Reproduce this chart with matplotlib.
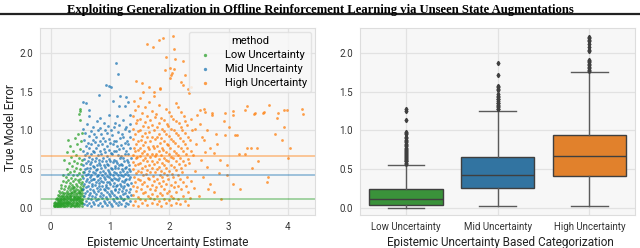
import numpy as np
import matplotlib.pyplot as plt
from matplotlib.lines import Line2D

plt.rcParams['font.family'] = ['Roboto', 'DejaVu Sans']

title = "Exploiting Generalization in Offline Reinforcement Learning via Unseen State Augmentations"
categories = ["Low Uncertainty", "Mid Uncertainty", "High Uncertainty"]
point_colors = ["#2ca02c", "#1f77b4", "#ff7f0e"]
box_colors = ["#3a923a", "#3274a1", "#e1812c"]

# scatter points (epistemic uncertainty, true model error)
low_pts = [
    (0.05, 0.02), (0.06, 0.04), (0.07, 0.03), (0.07, 0.06), (0.08, 0.02), (0.08, 0.08), (0.09, 0.05), (0.09, 0.11),
    (0.10, 0.03), (0.10, 0.07), (0.11, 0.02), (0.11, 0.05), (0.11, 0.13), (0.12, 0.04), (0.12, 0.09), (0.12, 0.17),
    (0.13, 0.03), (0.13, 0.06), (0.13, 0.12), (0.14, 0.02), (0.14, 0.08), (0.14, 0.15), (0.14, 0.22), (0.15, 0.04),
    (0.15, 0.10), (0.15, 0.05), (0.16, 0.03), (0.16, 0.07), (0.16, 0.13), (0.16, 0.19), (0.17, 0.05), (0.17, 0.09),
    (0.17, 0.26), (0.18, 0.02), (0.18, 0.11), (0.18, 0.16), (0.18, 0.30), (0.19, 0.04), (0.19, 0.07), (0.19, 0.21),
    (0.20, 0.03), (0.20, 0.09), (0.20, 0.14), (0.20, 0.35), (0.21, 0.06), (0.21, 0.12), (0.21, 0.18), (0.21, 0.42),
    (0.22, 0.02), (0.22, 0.08), (0.22, 0.24), (0.23, 0.05), (0.23, 0.11), (0.23, 0.16), (0.23, 0.62), (0.24, 0.03),
    (0.24, 0.13), (0.24, 0.28), (0.25, 0.07), (0.25, 0.19), (0.25, 0.40), (0.26, 0.04), (0.26, 0.10), (0.26, 0.15),
    (0.26, 0.33), (0.27, 0.06), (0.27, 0.22), (0.27, 0.50), (0.28, 0.02), (0.28, 0.12), (0.28, 0.17), (0.28, 0.72),
    (0.29, 0.08), (0.29, 0.26), (0.29, 0.44), (0.30, 0.04), (0.30, 0.14), (0.30, 0.20), (0.30, 0.36), (0.30, 0.88),
    (0.31, 0.07), (0.31, 0.11), (0.31, 0.29), (0.31, 0.58), (0.32, 0.03), (0.32, 0.16), (0.32, 0.23), (0.32, 0.47),
    (0.33, 0.09), (0.33, 0.13), (0.33, 0.32), (0.33, 0.80), (0.34, 0.05), (0.34, 0.19), (0.34, 0.26), (0.34, 0.66),
    (0.35, 0.02), (0.35, 0.10), (0.35, 0.15), (0.35, 0.39), (0.36, 0.07), (0.36, 0.21), (0.36, 0.30), (0.36, 0.54),
    (0.37, 0.04), (0.37, 0.12), (0.37, 0.17), (0.37, 0.43), (0.38, 0.08), (0.38, 0.24), (0.38, 0.35), (0.38, 0.74),
    (0.39, 0.03), (0.39, 0.14), (0.39, 0.19), (0.39, 0.61), (0.40, 0.06), (0.40, 0.10), (0.40, 0.27), (0.40, 0.48),
    (0.41, 0.02), (0.41, 0.16), (0.41, 0.22), (0.41, 0.38), (0.41, 0.90), (0.42, 0.08), (0.42, 0.12), (0.42, 0.31),
    (0.42, 0.68), (0.43, 0.05), (0.43, 0.18), (0.43, 0.25), (0.43, 0.52), (0.44, 0.03), (0.44, 0.11), (0.44, 0.14),
    (0.44, 0.42), (0.44, 0.82), (0.45, 0.07), (0.45, 0.20), (0.45, 0.29), (0.45, 0.58), (0.46, 0.04), (0.46, 0.13),
    (0.46, 0.23), (0.46, 0.36), (0.46, 0.95), (0.47, 0.09), (0.47, 0.16), (0.47, 0.33), (0.47, 0.64), (0.48, 0.02),
    (0.48, 0.06), (0.48, 0.19), (0.48, 0.45), (0.48, 1.21), (0.49, 0.11), (0.49, 0.27), (0.49, 0.38), (0.49, 0.76),
    (0.49, 1.27), (0.50, 0.05), (0.50, 0.14), (0.50, 0.22), (0.50, 0.50), (0.50, 1.25), (0.51, 0.08), (0.51, 0.17),
    (0.51, 0.31), (0.51, 0.57), (0.51, 0.86), (0.52, 0.03), (0.52, 0.12), (0.52, 0.25), (0.52, 0.41), (0.52, 0.97),
    (0.53, 0.07), (0.53, 0.19), (0.53, 0.34), (0.53, 0.62), (0.53, 0.10), (0.54, 0.15), (0.54, 0.28), (0.54, 0.46),
    (0.50, 1.13), (0.06, 0.07), (0.08, 0.04), (0.10, 0.05), (0.12, 0.07), (0.14, 0.05), (0.16, 0.09), (0.18, 0.06),
    (0.20, 0.05), (0.22, 0.11), (0.24, 0.08), (0.26, 0.06), (0.28, 0.09), (0.30, 0.08), (0.32, 0.06), (0.34, 0.12),
    (0.36, 0.04), (0.38, 0.10), (0.40, 0.14), (0.42, 0.04), (0.44, 0.07), (0.46, 0.10), (0.48, 0.13), (0.50, 0.09),
    (0.52, 0.07), (0.13, 0.10), (0.17, 0.12), (0.19, 0.15), (0.23, 0.19), (0.27, 0.14), (0.31, 0.18), (0.35, 0.20),
    (0.39, 0.22), (0.43, 0.10), (0.47, 0.21), (0.51, 0.24), (0.29, 0.05), (0.33, 0.16), (0.37, 0.27), (0.41, 0.13),
    (0.45, 0.16), (0.49, 0.19), (0.53, 0.23),
]

mid_pts = [
    (0.555, 0.05), (0.562, 0.16), (0.548, 0.24), (0.566, 0.31), (0.551, 0.39), (0.559, 0.47), (0.545, 0.55),
    (0.564, 0.63), (0.553, 0.74), (0.561, 0.88), (0.547, 1.02), (0.54, 1.37), (0.60, 1.36),
    (0.592, 0.09), (0.584, 0.19), (0.598, 0.27), (0.588, 0.35), (0.595, 0.42), (0.581, 0.50), (0.593, 0.58),
    (0.586, 0.68), (0.597, 0.80), (0.583, 0.97),
    (0.618, 0.04), (0.626, 0.13), (0.612, 0.22), (0.629, 0.29), (0.615, 0.37), (0.623, 0.44), (0.611, 0.52),
    (0.627, 0.61), (0.616, 0.71), (0.624, 0.84), (0.613, 1.08),
    (0.652, 0.07), (0.644, 0.17), (0.657, 0.25), (0.641, 0.33), (0.655, 0.40), (0.647, 0.48), (0.659, 0.57),
    (0.643, 0.66), (0.651, 0.78), (0.646, 0.93), (0.640, 1.19), (0.650, 1.26),
    (0.677, 0.03), (0.685, 0.12), (0.671, 0.20), (0.689, 0.28), (0.674, 0.36), (0.682, 0.43), (0.669, 0.51),
    (0.687, 0.59), (0.675, 0.69), (0.683, 0.82), (0.672, 0.99),
    (0.712, 0.08), (0.704, 0.15), (0.718, 0.23), (0.701, 0.31), (0.715, 0.38), (0.707, 0.46), (0.719, 0.54),
    (0.703, 0.63), (0.711, 0.74), (0.706, 0.88), (0.716, 1.05),
    (0.738, 0.05), (0.746, 0.14), (0.731, 0.21), (0.749, 0.30), (0.735, 0.37), (0.743, 0.45), (0.729, 0.53),
    (0.747, 0.60), (0.736, 0.72), (0.744, 0.85), (0.732, 0.96),
    (0.772, 0.10), (0.764, 0.18), (0.778, 0.26), (0.761, 0.34), (0.775, 0.41), (0.767, 0.49), (0.779, 0.56),
    (0.763, 0.65), (0.771, 0.77), (0.766, 0.91), (0.776, 1.12),
    (0.798, 0.04), (0.806, 0.12), (0.791, 0.22), (0.809, 0.28), (0.795, 0.36), (0.803, 0.43), (0.789, 0.50),
    (0.807, 0.58), (0.796, 0.68), (0.804, 0.81), (0.792, 1.00), (0.820, 1.46), (0.830, 1.16),
    (0.832, 0.07), (0.824, 0.16), (0.838, 0.24), (0.821, 0.32), (0.835, 0.39), (0.827, 0.47), (0.839, 0.55),
    (0.823, 0.62), (0.831, 0.73), (0.826, 0.86), (0.836, 1.03),
    (0.858, 0.03), (0.866, 0.13), (0.851, 0.20), (0.869, 0.29), (0.855, 0.35), (0.863, 0.42), (0.849, 0.51),
    (0.867, 0.60), (0.856, 0.70), (0.864, 0.83), (0.852, 0.95),
    (0.892, 0.09), (0.884, 0.17), (0.898, 0.25), (0.881, 0.33), (0.895, 0.40), (0.887, 0.48), (0.899, 0.56),
    (0.883, 0.64), (0.891, 0.76), (0.886, 0.90), (0.896, 1.09),
    (0.918, 0.06), (0.926, 0.14), (0.911, 0.23), (0.929, 0.30), (0.915, 0.37), (0.923, 0.45), (0.909, 0.53),
    (0.927, 0.61), (0.916, 0.72), (0.924, 0.87), (0.912, 1.01), (0.930, 1.59),
    (0.952, 0.04), (0.944, 0.12), (0.958, 0.21), (0.941, 0.27), (0.955, 0.34), (0.947, 0.41), (0.959, 0.49),
    (0.943, 0.57), (0.951, 0.67), (0.946, 0.80), (0.956, 0.97),
    (0.978, 0.08), (0.986, 0.18), (0.971, 0.26), (0.989, 0.33), (0.975, 0.40), (0.983, 0.47), (0.969, 0.55),
    (0.987, 0.63), (0.976, 0.75), (0.984, 0.89), (0.972, 1.06), (0.980, 1.20), (0.990, 1.57),
    (1.012, 0.05), (1.004, 0.15), (1.018, 0.22), (1.001, 0.31), (1.015, 0.38), (1.007, 0.44), (1.019, 0.52),
    (1.003, 0.60), (1.011, 0.71), (1.006, 0.84), (1.016, 1.00), (1.010, 1.56),
    (1.038, 0.03), (1.046, 0.11), (1.031, 0.20), (1.049, 0.28), (1.035, 0.36), (1.043, 0.43), (1.029, 0.50),
    (1.047, 0.59), (1.036, 0.69), (1.044, 0.82), (1.032, 0.94), (1.050, 1.38),
    (1.072, 0.09), (1.064, 0.17), (1.078, 0.25), (1.061, 0.32), (1.075, 0.39), (1.067, 0.46), (1.079, 0.54),
    (1.063, 0.62), (1.071, 0.74), (1.066, 0.87), (1.076, 1.04),
    (1.098, 0.06), (1.106, 0.14), (1.091, 0.23), (1.109, 0.29), (1.095, 0.37), (1.103, 0.45), (1.089, 0.52),
    (1.107, 0.61), (1.096, 0.73), (1.104, 0.86), (1.092, 1.10), (1.100, 1.87), (1.110, 1.18),
    (1.132, 0.04), (1.124, 0.13), (1.138, 0.21), (1.121, 0.30), (1.135, 0.36), (1.127, 0.43), (1.139, 0.51),
    (1.123, 0.58), (1.131, 0.68), (1.126, 0.80), (1.136, 0.98), (1.130, 1.73),
    (1.158, 0.08), (1.166, 0.16), (1.151, 0.24), (1.169, 0.31), (1.155, 0.39), (1.163, 0.47), (1.149, 0.55),
    (1.167, 0.64), (1.156, 0.76), (1.164, 0.90), (1.152, 1.07), (1.150, 1.31), (1.170, 1.45),
    (1.192, 0.05), (1.184, 0.13), (1.198, 0.22), (1.181, 0.28), (1.195, 0.35), (1.187, 0.42), (1.199, 0.50),
    (1.183, 0.57), (1.191, 0.67), (1.186, 0.81), (1.196, 0.95),
    (1.218, 0.10), (1.226, 0.18), (1.211, 0.26), (1.229, 0.33), (1.215, 0.41), (1.223, 0.48), (1.209, 0.56),
    (1.227, 0.65), (1.216, 0.78), (1.224, 0.92), (1.212, 1.13),
    (1.252, 0.03), (1.244, 0.12), (1.258, 0.20), (1.241, 0.29), (1.255, 0.36), (1.247, 0.44), (1.259, 0.51),
    (1.243, 0.60), (1.251, 0.70), (1.246, 0.84), (1.256, 1.02), (1.250, 1.32),
    (1.278, 0.07), (1.286, 0.15), (1.271, 0.23), (1.289, 0.31), (1.275, 0.38), (1.283, 0.46), (1.269, 0.53),
    (1.287, 0.62), (1.276, 0.73), (1.284, 0.87), (1.272, 1.04), (1.270, 1.43),
    (1.312, 0.05), (1.304, 0.14), (1.318, 0.21), (1.301, 0.30), (1.315, 0.37), (1.307, 0.43), (1.319, 0.50),
    (1.303, 0.59), (1.311, 0.69), (1.306, 0.83), (1.316, 0.99), (1.310, 1.37),
    (1.338, 0.09), (1.346, 0.17), (1.331, 0.25), (1.349, 0.32), (1.335, 0.40), (1.343, 0.48), (1.329, 0.56),
    (1.347, 0.64), (1.336, 0.77), (1.344, 0.91), (1.332, 1.08), (1.340, 1.20),
]

high_pts = [
    (1.388, 0.04), (1.395, 0.17), (1.382, 0.29), (1.399, 0.40), (1.386, 0.50), (1.392, 0.59), (1.381, 0.68),
    (1.397, 0.78), (1.385, 0.89), (1.394, 1.02), (1.383, 1.18), (1.398, 1.38),
    (1.428, 0.09), (1.435, 0.22), (1.421, 0.34), (1.439, 0.45), (1.425, 0.55), (1.432, 0.64), (1.420, 0.73),
    (1.437, 0.83), (1.426, 0.95), (1.434, 1.09), (1.423, 1.26), (1.440, 1.64),
    (1.468, 0.03), (1.475, 0.14), (1.461, 0.27), (1.479, 0.38), (1.465, 0.48), (1.472, 0.57), (1.460, 0.66),
    (1.477, 0.75), (1.466, 0.86), (1.474, 0.99), (1.463, 1.13), (1.478, 1.32),
    (1.508, 0.12), (1.515, 0.24), (1.501, 0.36), (1.519, 0.47), (1.505, 0.58), (1.512, 0.67), (1.500, 0.77),
    (1.517, 0.88), (1.506, 1.00), (1.514, 1.15), (1.503, 1.42), (1.540, 1.61),
    (1.548, 0.06), (1.555, 0.19), (1.541, 0.31), (1.559, 0.42), (1.545, 0.52), (1.552, 0.62), (1.540, 0.71),
    (1.557, 0.81), (1.546, 0.93), (1.554, 1.06), (1.543, 1.22), (1.558, 1.50),
    (1.588, 0.10), (1.595, 0.21), (1.581, 0.33), (1.599, 0.44), (1.585, 0.54), (1.592, 0.64), (1.580, 0.74),
    (1.597, 0.85), (1.586, 0.97), (1.594, 1.11), (1.583, 1.30),
    (1.628, 0.04), (1.635, 0.16), (1.621, 0.28), (1.639, 0.39), (1.625, 0.49), (1.632, 0.60), (1.620, 0.69),
    (1.637, 0.79), (1.626, 0.91), (1.634, 1.04), (1.623, 1.19), (1.630, 2.12),
    (1.668, 0.13), (1.675, 0.25), (1.661, 0.37), (1.679, 0.46), (1.665, 0.56), (1.672, 0.66), (1.660, 0.76),
    (1.677, 0.87), (1.666, 0.98), (1.674, 1.14), (1.663, 1.37), (1.660, 1.56),
    (1.708, 0.07), (1.715, 0.18), (1.701, 0.30), (1.719, 0.41), (1.705, 0.51), (1.712, 0.61), (1.700, 0.70),
    (1.717, 0.80), (1.706, 0.92), (1.714, 1.07), (1.703, 1.25), (1.720, 2.07),
    (1.748, 0.11), (1.755, 0.23), (1.741, 0.35), (1.759, 0.47), (1.745, 0.57), (1.752, 0.67), (1.740, 0.78),
    (1.757, 0.89), (1.746, 1.01), (1.754, 1.17), (1.743, 1.44), (1.750, 1.50),
    (1.788, 0.05), (1.795, 0.15), (1.781, 0.27), (1.799, 0.38), (1.785, 0.50), (1.792, 0.59), (1.780, 0.69),
    (1.797, 0.80), (1.786, 0.92), (1.794, 1.05), (1.783, 1.21),
    (1.828, 0.09), (1.835, 0.20), (1.821, 0.32), (1.839, 0.43), (1.825, 0.53), (1.832, 0.63), (1.820, 0.73),
    (1.837, 0.84), (1.826, 0.96), (1.834, 1.10), (1.823, 1.33), (1.830, 2.17), (1.840, 1.54),
    (1.868, 0.03), (1.875, 0.17), (1.861, 0.29), (1.879, 0.40), (1.865, 0.48), (1.872, 0.58), (1.860, 0.68),
    (1.877, 0.77), (1.866, 0.90), (1.874, 1.02), (1.863, 1.16), (1.890, 2.19), (1.850, 1.55),
    (1.908, 0.12), (1.915, 0.24), (1.901, 0.35), (1.919, 0.45), (1.905, 0.55), (1.912, 0.65), (1.900, 0.75),
    (1.917, 0.86), (1.906, 0.99), (1.914, 1.13), (1.920, 1.78), (1.940, 1.95),
    (1.948, 0.06), (1.955, 0.19), (1.941, 0.31), (1.959, 0.42), (1.945, 0.52), (1.952, 0.62), (1.940, 0.72),
    (1.957, 0.83), (1.946, 0.95), (1.954, 1.08), (1.943, 1.27),
    (1.988, 0.10), (1.995, 0.22), (1.981, 0.37), (1.999, 0.48), (1.985, 0.60), (1.992, 0.70), (1.980, 0.81),
    (1.997, 0.93), (1.986, 1.06), (1.994, 1.24), (2.010, 1.67), (2.020, 1.80),
    (2.028, 0.04), (2.035, 0.16), (2.021, 0.30), (2.039, 0.44), (2.025, 0.56), (2.032, 0.66), (2.020, 0.77),
    (2.037, 0.89), (2.026, 1.02), (2.034, 1.19), (2.040, 1.74), (2.030, 1.72),
    (2.068, 0.13), (2.075, 0.27), (2.061, 0.40), (2.079, 0.53), (2.065, 0.64), (2.072, 0.74), (2.060, 0.87),
    (2.077, 1.00), (2.066, 1.15), (2.070, 2.22), (2.080, 2.05), (2.080, 1.79),
    (2.108, 0.07), (2.115, 0.21), (2.101, 0.34), (2.119, 0.49), (2.105, 0.60), (2.112, 0.71), (2.100, 0.84),
    (2.117, 0.97), (2.106, 1.12), (2.100, 1.92), (2.110, 1.35),
    (2.148, 0.11), (2.155, 0.28), (2.141, 0.43), (2.159, 0.57), (2.145, 0.68), (2.152, 0.80), (2.140, 0.94),
    (2.157, 1.09), (2.150, 1.30),
    (2.188, 0.05), (2.195, 0.24), (2.181, 0.38), (2.199, 0.52), (2.185, 0.65), (2.192, 0.77), (2.180, 0.90),
    (2.197, 1.05), (2.200, 1.63), (2.190, 1.24),
    (2.228, 0.15), (2.235, 0.33), (2.221, 0.47), (2.239, 0.61), (2.225, 0.73), (2.232, 0.86), (2.220, 1.00),
    (2.230, 1.89), (2.230, 1.59), (2.240, 1.18),
    (2.268, 0.09), (2.275, 0.29), (2.261, 0.55), (2.279, 0.69), (2.265, 0.82), (2.272, 0.97), (2.270, 1.71),
    (2.260, 1.12),
    (2.308, 0.04), (2.315, 0.21), (2.301, 0.40), (2.319, 0.63), (2.305, 0.78), (2.312, 0.92), (2.320, 1.54),
    (2.330, 1.48), (2.300, 1.07),
    (2.35, 0.13), (2.36, 0.35), (2.34, 0.58), (2.37, 0.74), (2.35, 0.88), (2.37, 1.56), (2.36, 1.15), (2.38, 1.00),
    (2.42, 0.26), (2.44, 0.48), (2.40, 0.68), (2.45, 0.83), (2.43, 1.02), (2.47, 1.20), (2.50, 0.15), (2.52, 1.08),
    (2.51, 1.26), (2.53, 0.62), (2.55, 0.92), (2.58, 0.88), (2.58, 1.28), (2.56, 0.40), (2.61, 1.24), (2.63, 1.00),
    (2.63, 0.53), (2.60, 0.72), (2.66, 0.24), (2.69, 0.31), (2.69, 0.77), (2.72, 1.20), (2.72, 1.23), (2.75, 0.71),
    (2.75, 0.21), (2.78, 0.95), (2.80, 0.83), (2.83, 0.45), (2.86, 0.62), (2.92, 1.12), (2.94, 0.94), (2.94, 1.22),
    (2.97, 0.55), (3.00, 1.04), (3.07, 0.31), (3.08, 1.20), (3.08, 1.25), (3.10, 0.94), (3.14, 0.94), (3.18, 0.70),
    (3.27, 1.26), (3.28, 0.69), (3.31, 1.31), (3.31, 0.77), (3.37, 0.77), (3.40, 0.52), (3.42, 1.21), (3.45, 1.23),
    (3.48, 0.77), (3.58, 1.23), (3.59, 1.24), (3.65, 0.33), (3.67, 0.40), (3.68, 1.33), (3.78, 0.95), (3.81, 1.16),
    (3.84, 1.22), (3.90, 0.88), (3.94, 1.26), (3.94, 1.04), (3.99, 1.26), (4.00, 0.65), (4.03, 0.78), (4.24, 1.28),
    (4.26, 1.21), (2.98, 0.43), (3.20, 0.24), (2.88, 0.12), (3.50, 0.60),
]

# box plot statistics per category
medians = [0.12, 0.42, 0.67]
q1s = [0.045, 0.255, 0.41]
q3s = [0.25, 0.655, 0.945]
whis_lo = [0.0, 0.03, 0.03]
whis_hi = [0.56, 1.25, 1.755]
low_fliers = [0.57, 0.58, 0.6, 0.61, 0.62, 0.63, 0.65, 0.66, 0.67, 0.68, 0.7, 0.71, 0.72, 0.74, 0.75, 0.76,
              0.78, 0.8, 0.81, 0.83, 0.85, 0.86, 0.88, 0.9, 0.92, 0.95, 0.97, 0.98, 1.13, 1.25, 1.27]
mid_fliers = [1.27, 1.28, 1.3, 1.31, 1.33, 1.35, 1.36, 1.38, 1.4, 1.41, 1.43, 1.45, 1.47, 1.52, 1.54,
              1.56, 1.57, 1.72, 1.87]
high_fliers = [1.77, 1.78, 1.8, 1.82, 1.84, 1.86, 1.88, 1.9, 1.91, 2.02, 2.04, 2.07, 2.12, 2.15,
               2.17, 2.19, 2.21]


def style_axes(ax):
    ax.set_facecolor('#f7f7f7')
    ax.grid(True, color='#e2e2e2', linewidth=0.9)
    ax.set_axisbelow(True)
    for sp in ax.spines.values():
        sp.set_color('#dddddd')
        sp.set_linewidth(0.8)
    ax.tick_params(length=0, labelsize=7, labelcolor='#333333', pad=5)
    ax.set_ylim(-0.09, 2.32)
    ax.set_yticks([0.0, 0.5, 1.0, 1.5, 2.0])


fig = plt.figure(figsize=(6.4, 2.48), dpi=100)
fig.text(0.5, 0.984, title, ha='center', va='top', fontsize=9.1, fontweight='bold',
         family='Liberation Serif')
fig.add_artist(Line2D([0, 1], [0.945, 0.945], color='#222222', linewidth=1.6))

ax1 = fig.add_axes([0.0625, 0.133, 0.43, 0.754])
ax2 = fig.add_axes([0.5625, 0.133, 0.43, 0.754])
style_axes(ax1)
style_axes(ax2)

for pts, col, name in zip([low_pts, mid_pts, high_pts], point_colors, categories):
    arr = np.array(pts)
    ax1.scatter(arr[:, 0], arr[:, 1], s=4, color=col, alpha=0.75, linewidths=0, label=name)
for med, col in zip(medians, point_colors):
    ax1.axhline(med, color=col, alpha=0.45, linewidth=1.3)

ax1.set_xlim(-0.18, 4.46)
ax1.set_xticks([0, 1, 2, 3, 4])
ax1.set_xlabel('Epistemic Uncertainty Estimate', fontsize=8.5, color='#222222')
ax1.xaxis.set_label_coords(0.465, -0.11)
ax1.set_ylabel('True Model Error', fontsize=8.5, color='#222222')
ax1.yaxis.set_label_coords(-0.085, 0.47)
leg = ax1.legend(title='method', loc='upper right', fontsize=8, title_fontsize=8, markerscale=1.2,
                 frameon=True, borderaxespad=0.35, handletextpad=0.8, labelspacing=0.35)
leg.get_frame().set_edgecolor('#e0e0e0')
leg.get_frame().set_facecolor('#f7f7f7')
leg.get_frame().set_alpha(0.85)

stats = []
for i, fl in enumerate([low_fliers, mid_fliers, high_fliers]):
    stats.append(dict(med=medians[i], q1=q1s[i], q3=q3s[i], whislo=whis_lo[i], whishi=whis_hi[i],
                      fliers=fl, label=categories[i]))
edge = '#3f3f3f'
bp = ax2.bxp(stats, positions=[0, 1, 2], widths=0.8, capwidths=0.4, patch_artist=True,
             boxprops=dict(edgecolor=edge, linewidth=1.0),
             medianprops=dict(color=edge, linewidth=1.0),
             whiskerprops=dict(color='#5a5a5a', linewidth=1.0),
             capprops=dict(color='#5a5a5a', linewidth=1.0),
             flierprops=dict(marker='d', markersize=2.2, markerfacecolor=edge, markeredgecolor=edge))
for patch, col in zip(bp['boxes'], box_colors):
    patch.set_facecolor(col)
ax2.set_xlim(-0.5, 2.5)
ax2.set_xticks([0, 1, 2])
ax2.set_xticklabels(categories)
ax2.set_xlabel('Epistemic Uncertainty Based Categorization', fontsize=8.5, color='#222222')
ax2.xaxis.set_label_coords(0.51, -0.11)

fig.savefig('out.png', dpi=100)
